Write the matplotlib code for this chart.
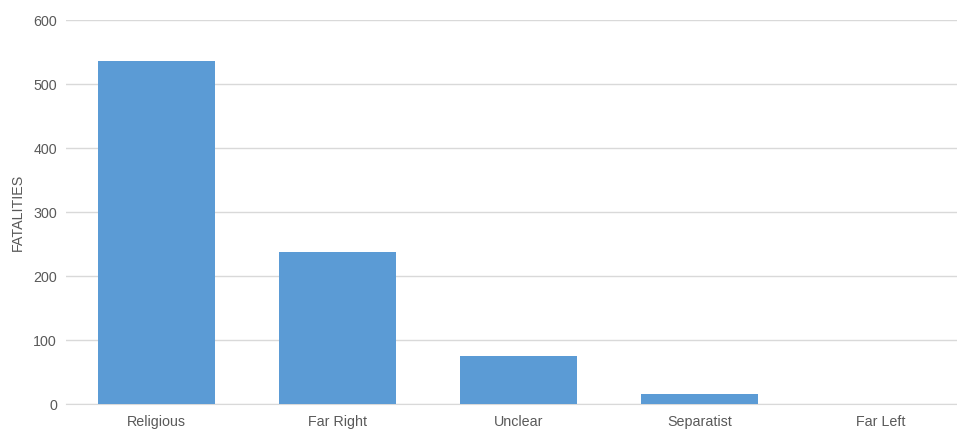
import matplotlib
matplotlib.use('Agg')
import matplotlib.pyplot as plt

plt.rcParams['font.family'] = ['Liberation Sans', 'DejaVu Sans']

categories = ['Religious', 'Far Right', 'Unclear', 'Separatist', 'Far Left']
fatalities = [536, 238, 75, 16, 0]

W, H = 957, 430
fig = plt.figure(figsize=(W / 100, H / 100), dpi=100)
ax = fig.add_axes([66 / W, 26 / H, 905 / W, 384 / H])

x = range(len(categories))
ax.bar(x, fatalities, width=0.645, color='#5B9BD5', zorder=3)

ax.set_xlim(-0.5, len(categories) - 0.5)
ax.set_ylim(0, 600)
ax.set_yticks(range(0, 601, 100))
ax.set_xticks(list(x))
ax.set_xticklabels(categories)
ax.grid(axis='y', color='#D9D9D9', lw=1, zorder=0)
for s in ['top', 'right', 'left']:
    ax.spines[s].set_visible(False)
ax.spines['bottom'].set_color('#D9D9D9')
ax.tick_params(length=0, labelsize=10.3, labelcolor='#595959')
ax.tick_params(axis='y', pad=6.5)
ax.tick_params(axis='x', pad=8)
ax.set_ylabel('FATALITIES', fontsize=10.3, color='#595959', labelpad=6)

fig.savefig('out.png', dpi=100, facecolor='white')
